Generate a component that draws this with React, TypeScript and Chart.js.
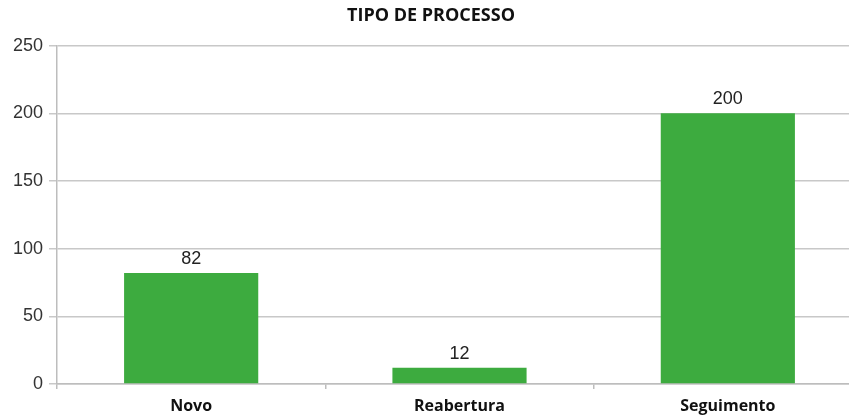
import React, { useEffect, useRef } from "react";
import { Chart, registerables } from "chart.js";

Chart.register(...registerables);

const categories = ["Novo", "Reabertura", "Seguimento"];
const values = [82, 12, 200];
const yTicks = [0, 50, 100, 150, 200, 250];
const chartTitle = "TIPO DE PROCESSO";

const valueLabels = {
  id: "valueLabels",
  afterDatasetsDraw(chart: any) {
    const ctx = chart.ctx;
    const meta = chart.getDatasetMeta(0);
    ctx.save();
    ctx.font = "18px 'Liberation Sans', Arial, sans-serif";
    ctx.fillStyle = "#222";
    ctx.textAlign = "center";
    ctx.textBaseline = "bottom";
    meta.data.forEach((bar: any, i: number) => {
      ctx.fillText(String(values[i]), bar.x, bar.y - 5);
    });
    ctx.restore();
  },
};

export default function App() {
  const ref = useRef<HTMLCanvasElement>(null);
  useEffect(() => {
    if (!ref.current) return;
    const chart = new Chart(ref.current, {
      type: "bar",
      data: {
        labels: categories,
        datasets: [
          {
            data: values,
            backgroundColor: "#3dab3f",
            borderWidth: 0,
            categoryPercentage: 0.5,
            barPercentage: 1,
          },
        ],
      },
      options: {
        animation: false,
        responsive: false,
        maintainAspectRatio: false,
        layout: { padding: { top: 0, right: 4, left: 0, bottom: 0 } },
        plugins: {
          legend: { display: false },
          tooltip: { enabled: false },
          title: {
            display: true,
            text: chartTitle,
            color: "#111",
            font: { family: "'Open Sans', Lato, sans-serif", size: 18, weight: "bold" },
            lineHeight: 1.2,
            padding: { top: 5, bottom: 19 },
          },
        },
        scales: {
          x: {
            offset: true,
            grid: {
              offset: true,
              drawOnChartArea: false,
              drawTicks: true,
              tickLength: 5,
              color: "#bdbdbd",
              lineWidth: 1.5,
            },
            border: { display: true, color: "#bdbdbd", width: 1.5 },
            ticks: {
              color: "#111",
              padding: 8,
              font: { family: "'Open Sans', Lato, sans-serif", size: 16, weight: "bold" },
            },
            afterFit(scale: any) {
              scale.height = 36;
            },
          },
          y: {
            min: 0,
            max: 250,
            afterBuildTicks(scale: any) {
              scale.ticks = yTicks.map((v) => ({ value: v }));
            },
            grid: {
              color: "#c8c8c8",
              lineWidth: 1.5,
              tickLength: 8,
            },
            border: { display: true, color: "#bdbdbd", width: 1.5 },
            ticks: {
              color: "#333",
              padding: 6,
              font: { family: "'Liberation Sans', Arial, sans-serif", size: 18 },
            },
            afterFit(scale: any) {
              scale.width = 57;
            },
          },
        },
      },
      plugins: [valueLabels],
    });
    return () => chart.destroy();
  }, []);
  return (
    <div
      style={{
        position: "fixed",
        left: 0,
        top: 0,
        width: 849,
        height: 420,
        overflow: "hidden",
        background: "#fff",
      }}
    >
      <canvas ref={ref} width={866} height={420} style={{ display: "block" }} />
    </div>
  );
}
